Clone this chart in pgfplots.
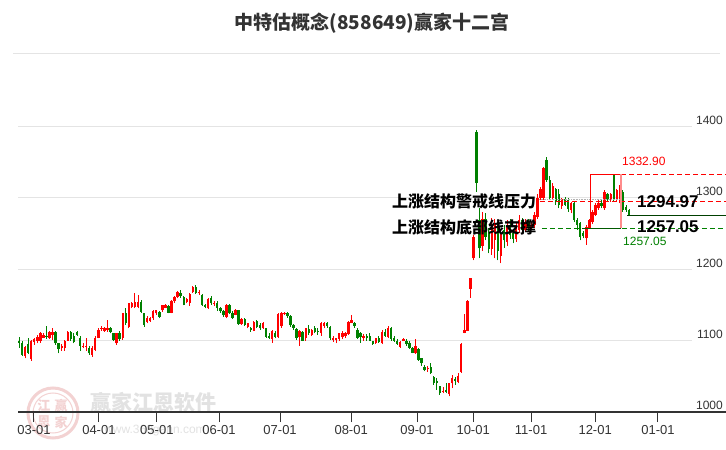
\documentclass[border=0pt]{standalone}
\usepackage{pgfplots}
\pgfplotsset{compat=1.18}
\usepackage{pgfplotstable}
\usepackage{fontspec}
\setmainfont{Liberation Sans}
\newfontfamily\cjk{Noto Sans CJK SC}
\definecolor{upred}{HTML}{FF0000}
\definecolor{dngreen}{HTML}{008000}
\definecolor{txt}{HTML}{333333}
\definecolor{gridc}{HTML}{E4E4E4}
\definecolor{wm}{HTML}{E2E2E2}
\definecolor{wmpink}{HTML}{F3D2D2}

\pgfplotstableread{
i O H L C
0 1100 1105 1090 1097
1 1097 1100 1078 1080
2 1078 1093 1075 1091
3 1095 1103 1081 1083
4 1074 1101 1072 1099
5 1098 1104 1094 1102
6 1100 1108 1096 1105
7 1099 1112 1097 1110
8 1104 1111 1103 1108
9 1107 1120 1102 1105
10 1104 1114 1102 1112
11 1108 1117 1101 1112
12 1112 1113 1094 1096
13 1096 1097 1082 1088
14 1089 1095 1086 1093
15 1089 1101 1086 1099
16 1100 1113 1099 1112
17 1112 1114 1100 1102
18 1107 1110 1096 1098
19 1112 1114 1106 1108
20 1104 1106 1085 1093
21 1092 1097 1089 1093
22 1091 1103 1085 1093
23 1090 1092 1080 1082
24 1080 1092 1077 1090
25 1087 1106 1085 1104
26 1104 1117 1103 1115
27 1116 1120 1114 1118
28 1114 1119 1112 1118
29 1115 1129 1112 1117
30 1118 1119 1110 1112
31 1110 1111 1099 1101
32 1096 1111 1094 1110
33 1111 1113 1100 1102
34 1103 1139 1101 1138
35 1138 1145 1122 1124
36 1119 1153 1117 1152
37 1147 1154 1145 1152
38 1147 1166 1145 1154
39 1147 1164 1145 1154
40 1154 1156 1139 1140
41 1138 1139 1119 1122
42 1126 1134 1124 1132
43 1127 1133 1126 1131
44 1131 1142 1129 1141
45 1138 1143 1136 1142
46 1140 1141 1131 1133
47 1142 1150 1140 1149
48 1146 1151 1145 1150
49 1148 1149 1138 1139
50 1139 1156 1138 1155
51 1155 1162 1153 1161
52 1161 1169 1159 1168
53 1166 1170 1160 1162
54 1161 1162 1149 1150
55 1154 1159 1152 1158
56 1153 1166 1148 1165
57 1168 1176 1167 1175
58 1175 1177 1165 1167
59 1166 1170 1164 1168
60 1164 1165 1148 1149
61 1150 1151 1145 1147
62 1145 1160 1144 1158
63 1160 1162 1150 1152
64 1151 1155 1148 1153
65 1152 1155 1141 1146
66 1146 1147 1139 1141
67 1141 1143 1133 1135
68 1133 1151 1131 1150
69 1150 1151 1137 1138
70 1139 1141 1130 1132
71 1136 1144 1135 1143
72 1142 1143 1122 1123
73 1123 1132 1122 1130
74 1130 1131 1120 1122
75 1119 1125 1117 1124
76 1117 1119 1112 1115
77 1114 1127 1113 1126
78 1127 1129 1117 1119
79 1122 1125 1115 1117
80 1117 1126 1116 1124
81 1117 1118 1104 1105
82 1106 1110 1102 1104
83 1102 1115 1097 1114
84 1111 1113 1103 1105
85 1105 1138 1104 1137
86 1120 1140 1118 1139
87 1137 1140 1135 1139
88 1139 1140 1132 1134
89 1134 1135 1119 1121
90 1122 1123 1115 1118
91 1116 1117 1101 1104
92 1105 1115 1093 1113
93 1112 1113 1099 1100
94 1103 1118 1100 1117
95 1116 1122 1108 1111
96 1108 1116 1106 1115
97 1117 1120 1110 1112
98 1114 1117 1108 1113
99 1110 1126 1107 1124
100 1120 1126 1117 1124
101 1124 1126 1118 1120
102 1119 1120 1101 1103
103 1101 1106 1098 1104
104 1101 1104 1096 1103
105 1102 1111 1100 1110
106 1105 1113 1102 1111
107 1107 1112 1104 1110
108 1109 1127 1108 1126
109 1125 1136 1124 1129
110 1125 1126 1118 1120
111 1115 1117 1102 1104
112 1110 1112 1097 1105
113 1104 1109 1100 1107
114 1106 1109 1100 1104
115 1107 1110 1099 1100
116 1099 1100 1094 1095
117 1096 1104 1095 1103
118 1104 1107 1097 1098
119 1096 1115 1095 1112
120 1112 1116 1105 1107
121 1105 1120 1104 1118
122 1118 1119 1100 1102
123 1104 1106 1098 1100
124 1100 1102 1094 1095
125 1091 1099 1090 1098
126 1100 1103 1099 1102
127 1099 1102 1093 1095
128 1096 1100 1088 1090
129 1090 1091 1082 1083
130 1082 1102 1081 1092
131 1088 1089 1072 1073
132 1075 1076 1065 1068
133 1063 1066 1057 1059
134 1060 1064 1056 1062
135 1063 1068 1053 1054
136 1049 1050 1038 1041
137 1044 1047 1031 1041
138 1036 1037 1024 1027
139 1028 1035 1026 1030
140 1031 1040 1026 1028
141 1025 1041 1022 1040
142 1040 1052 1033 1048
143 1046 1049 1038 1044
144 1042 1054 1040 1050
145 1056 1096 1055 1095
146 1111 1137 1110 1115
147 1114 1156 1113 1155
148 1172 1188 1160 1187
149 1215 1247 1212 1245
150 1392 1395 1308 1320
151 1268 1285 1215 1229
152 1232 1280 1225 1270
153 1270 1278 1240 1245
154 1250 1258 1222 1228
155 1228 1272 1220 1262
156 1240 1270 1215 1265
157 1262 1266 1212 1225
158 1218 1256 1208 1250
159 1255 1262 1230 1240
160 1238 1268 1232 1262
161 1262 1270 1242 1248
162 1250 1256 1236 1242
163 1242 1264 1238 1260
164 1255 1275 1250 1268
165 1268 1272 1250 1255
166 1255 1270 1252 1266
167 1266 1270 1253 1258
168 1258 1266 1255 1262
169 1262 1280 1258 1275
170 1273 1305 1270 1300
171 1300 1315 1296 1312
172 1300 1343 1296 1341
173 1352 1356 1322 1325
174 1325 1330 1296 1300
175 1300 1320 1296 1316
176 1312 1314 1290 1294
177 1305 1312 1285 1290
178 1288 1300 1284 1298
179 1298 1301 1288 1290
180 1296 1300 1280 1284
181 1282 1294 1278 1292
182 1292 1294 1266 1269
183 1268 1272 1255 1262
184 1264 1266 1240 1245
185 1250 1253 1243 1246
186 1243 1262 1234 1259
187 1258 1270 1256 1268
188 1266 1282 1263 1280
189 1276 1292 1274 1290
190 1286 1296 1283 1293
191 1293 1296 1285 1288
192 1285 1311 1283 1308
193 1305 1307 1295 1298
194 1297 1307 1294 1305
195 1331 1332.9 1295 1297
196 1296 1312 1294 1310
197 1297 1318 1292 1314
198 1308 1310 1280 1283
199 1287 1290 1280 1283
200 1282 1284 1274 1275.5
}\kdata

\begin{document}
\begin{tikzpicture}
\path[use as bounding box] (0pt,0pt) rectangle (726pt,450pt);
\fill[white] (0pt,0pt) rectangle (726pt,450pt);

% title and separator
\node[text=txt, inner sep=0pt] at (372pt,427pt) {\cjk\bfseries\fontsize{19}{19}\selectfont 中特估概念(858649)赢家十二宫};
\draw[gridc, line width=1pt] (13pt,396pt) -- (720pt,396pt);

% watermark
\draw[wmpink, line width=3pt] (53pt,37pt) circle (25pt);
\draw[wmpink, line width=1pt] (53pt,37pt) circle (20pt);
\node[text=wmpink, inner sep=0pt] at (44pt,44pt) {\cjk\bfseries\fontsize{13}{13}\selectfont 江};
\node[text=wmpink, inner sep=0pt] at (61pt,44pt) {\cjk\bfseries\fontsize{13}{13}\selectfont 赢};
\node[text=wmpink, inner sep=0pt] at (44pt,28pt) {\cjk\bfseries\fontsize{13}{13}\selectfont 恩};
\node[text=wmpink, inner sep=0pt] at (61pt,28pt) {\cjk\bfseries\fontsize{13}{13}\selectfont 家};
\node[text=wm, inner sep=0pt] at (153pt,48pt) {\cjk\bfseries\fontsize{21}{21}\selectfont 赢家江恩软件};
\node[text=wm, inner sep=0pt] at (155pt,19pt) {\fontsize{12}{12}\selectfont www.360gann.com};

\begin{axis}[
  at={(18pt,38pt)}, anchor=south west, scale only axis,
  width=708pt, height=336pt,
  xmin=-0.33, xmax=231.8, ymin=1000, ymax=1470,
  axis x line*=bottom, axis y line=none,
  x axis line style={draw=txt, line width=1.3pt, -},
  xtick={4.9,26.2,45.2,65.6,85.6,108.9,130.5,148.9,167.9,188.9,209.5},
  xticklabels={03-01,04-01,05-01,06-01,07-01,08-01,09-01,10-01,11-01,12-01,01-01},
  tick align=outside, major tick length=10pt,
  xtick style={draw=txt, line width=1pt},
  xticklabel style={font=\fontsize{13}{13}\selectfont, text=txt},
  ytick=\empty,
  clip=false,
]
% grid lines
\foreach \v in {1100,1200,1300,1400}{
  \edef\tmp{\noexpand\draw[gridc, line width=1pt] (axis cs:-0.33,\v) -- (axis cs:220.6,\v);}
  \tmp
}
% y labels
\foreach \v in {1000,1100,1200,1300,1400}{
  \edef\tmp{\noexpand\node[anchor=base east, inner sep=0pt, text=txt, font=\noexpand\fontsize{12}{12}\noexpand\selectfont, xshift=-3pt, yshift=2pt] at (axis cs:231.8,\v) {\v};}
  \tmp
}

% wicks
\addplot[draw=none, mark=none, forget plot, restrict expr to domain={\thisrow{C}-\thisrow{O}}{0:1000},
  error bars/.cd, y dir=plus, y explicit, error mark=none,
  error bar style={draw=upred, line width=0.9pt}]
  table[x=i, y=L, y error expr=\thisrow{H}-\thisrow{L}] {\kdata};
\addplot[draw=none, mark=none, forget plot, restrict expr to domain={\thisrow{C}-\thisrow{O}}{-1000:-0.001},
  error bars/.cd, y dir=plus, y explicit, error mark=none,
  error bar style={draw=dngreen, line width=0.9pt}]
  table[x=i, y=L, y error expr=\thisrow{H}-\thisrow{L}] {\kdata};
% bodies
\addplot[draw=none, mark=none, forget plot, restrict expr to domain={\thisrow{C}-\thisrow{O}}{0:1000},
  error bars/.cd, y dir=plus, y explicit, error mark=none,
  error bar style={draw=upred, line width=2.4pt}]
  table[x=i, y=O, y error expr=\thisrow{C}-\thisrow{O}] {\kdata};
\addplot[draw=none, mark=none, forget plot, restrict expr to domain={\thisrow{C}-\thisrow{O}}{-1000:-0.001},
  error bars/.cd, y dir=plus, y explicit, error mark=none,
  error bar style={draw=dngreen, line width=2.4pt}]
  table[x=i, y=C, y error expr=\thisrow{O}-\thisrow{C}] {\kdata};

% structure lines
\draw[gray!60, line width=0.6pt, densely dotted] (axis cs:170.5,1297.6) -- (axis cs:197.4,1297.6);
\draw[upred, line width=1pt, dash pattern=on 5pt off 3pt] (axis cs:170.8,1294.97) -- (axis cs:231.8,1294.97);
\draw[dngreen, line width=1pt, dash pattern=on 5pt off 3pt] (axis cs:171.4,1257.05) -- (axis cs:231.8,1257.05);
\draw[dngreen!70!black, line width=1pt] (axis cs:184.7,1257.05) -- (axis cs:197.4,1257.05);
\draw[upred, line width=1pt, dash pattern=on 5pt off 3pt] (axis cs:197.4,1332.9) -- (axis cs:231.8,1332.9);
\draw[upred, line width=0.9pt] (axis cs:197.4,1332.9) -- (axis cs:187.2,1332.9) -- (axis cs:187.2,1257.05);
\draw[upred!45, line width=1.6pt] (axis cs:197.4,1332.9) -- (axis cs:197.4,1257.05);
\draw[dngreen!50!black, line width=0.6pt] (axis cs:199.5,1275.5) -- (axis cs:231.8,1275.5);
\end{axis}

% annotations
\node[anchor=west, inner sep=0pt] at (392pt,248.5pt) {\cjk\bfseries\fontsize{16}{16}\selectfont 上涨结构警戒线压力};
\node[anchor=west, inner sep=0pt] at (392pt,222.5pt) {\cjk\bfseries\fontsize{16}{16}\selectfont 上涨结构底部线支撑};
\node[anchor=west, inner sep=0pt] at (637pt,248.5pt) {\bfseries\fontsize{17}{17}\selectfont 1294.97};
\node[anchor=west, inner sep=0pt] at (637pt,223pt) {\bfseries\fontsize{17}{17}\selectfont 1257.05};
\node[anchor=west, inner sep=0pt, text=dngreen] at (623pt,209pt) {\fontsize{12}{12}\selectfont 1257.05};
\node[anchor=west, inner sep=0pt, text=upred] at (622pt,288.5pt) {\fontsize{12}{12}\selectfont 1332.90};
\end{tikzpicture}
\end{document}
